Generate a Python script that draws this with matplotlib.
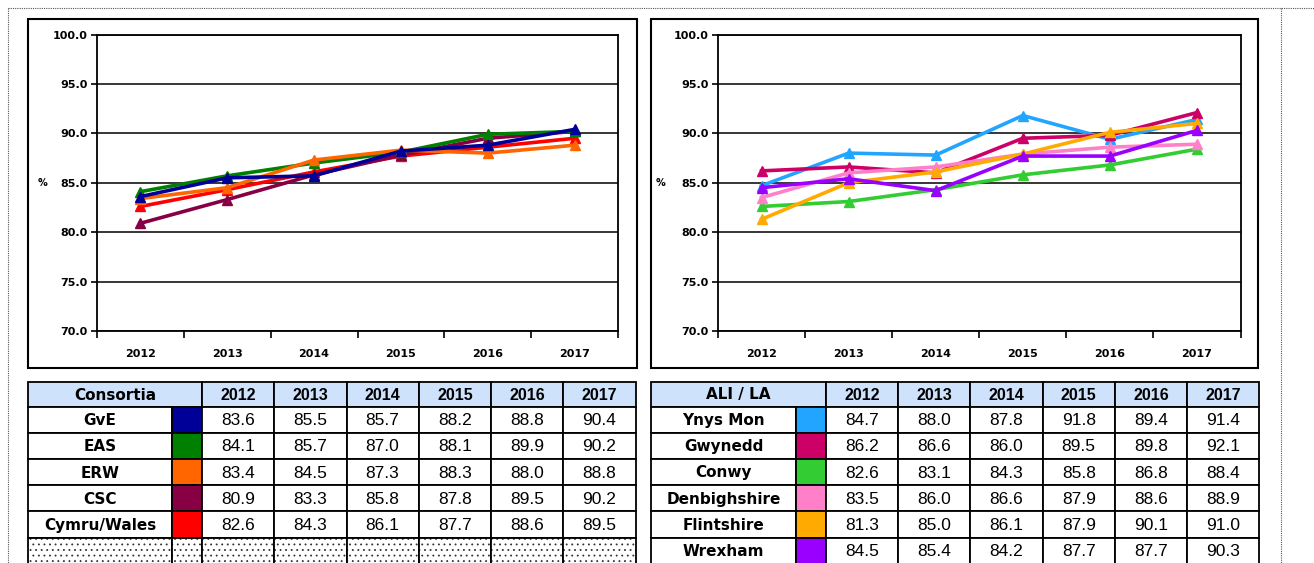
import matplotlib
matplotlib.use("Agg")
import matplotlib.pyplot as plt
from matplotlib.patches import Rectangle

W, H = 1314, 563

years = ["2012", "2013", "2014", "2015", "2016", "2017"]

# Consortia (left)
consortia = ["GvE", "EAS", "ERW", "CSC", "Cymru/Wales"]
gve = [83.6, 85.5, 85.7, 88.2, 88.8, 90.4]
eas = [84.1, 85.7, 87.0, 88.1, 89.9, 90.2]
erw = [83.4, 84.5, 87.3, 88.3, 88.0, 88.8]
csc = [80.9, 83.3, 85.8, 87.8, 89.5, 90.2]
wales = [82.6, 84.3, 86.1, 87.7, 88.6, 89.5]
cons_values = [gve, eas, erw, csc, wales]
cons_colors = ["#000099", "#008000", "#ff6600", "#880044", "#ff0000"]

# Local authorities (right)
las = ["Ynys Mon", "Gwynedd", "Conwy", "Denbighshire", "Flintshire", "Wrexham"]
ynys_mon = [84.7, 88.0, 87.8, 91.8, 89.4, 91.4]
gwynedd = [86.2, 86.6, 86.0, 89.5, 89.8, 92.1]
conwy = [82.6, 83.1, 84.3, 85.8, 86.8, 88.4]
denbighshire = [83.5, 86.0, 86.6, 87.9, 88.6, 88.9]
flintshire = [81.3, 85.0, 86.1, 87.9, 90.1, 91.0]
wrexham = [84.5, 85.4, 84.2, 87.7, 87.7, 90.3]
la_values = [ynys_mon, gwynedd, conwy, denbighshire, flintshire, wrexham]
la_colors = ["#22a5ff", "#cc0066", "#33cc33", "#ff80c8", "#ffaa00", "#9900ff"]

yticks = [70.0, 75.0, 80.0, 85.0, 90.0, 95.0, 100.0]

plt.rcParams["hatch.linewidth"] = 0.6


def px_rect(x0, y0, x1, y1):
    # pixel box (top-left origin) -> figure fraction
    return [x0 / W, 1 - y1 / H, (x1 - x0) / W, (y1 - y0) / H]


fig = plt.figure(figsize=(W / 100, H / 100), dpi=100)
bg = fig.add_axes([0, 0, 1, 1])
bg.set_xlim(0, W)
bg.set_ylim(H, 0)
bg.axis("off")

# dotted page borders
bg.plot([8, W], [8, 8], ls=(0, (1, 1)), color="#555555", lw=0.8)
bg.plot([8, 8], [8, H], ls=(0, (1, 1)), color="#555555", lw=0.8)
bg.plot([1281, 1281], [8, H], ls=(0, (1, 1)), color="#555555", lw=0.8)

# chart frames
for fx0, fx1 in [(28, 636.5), (651, 1258)]:
    bg.add_patch(Rectangle((fx0, 18.5), fx1 - fx0, 349, fill=False, ec="black", lw=1.5))


def draw_chart(rect, values, colors, order):
    ax = fig.add_axes(px_rect(*rect))
    x = range(len(years))
    for i in order:
        ax.plot(x, values[i], color=colors[i], lw=2.6, marker="^", ms=7.5,
                markeredgecolor=colors[i], zorder=3)
    ax.set_xlim(-0.5, len(years) - 0.5)
    ax.set_ylim(70, 100)
    ax.set_yticks(yticks)
    ax.set_yticklabels([f"{v:.1f}" for v in yticks], fontsize=8, fontweight="bold",
                       family="DejaVu Sans")
    ax.set_xticks(list(x))
    ax.set_xticklabels(years, fontsize=8, fontweight="bold", family="DejaVu Sans")
    ax.set_xticks([i - 0.5 for i in range(len(years) + 1)], minor=True)
    ax.tick_params(axis="x", which="major", length=0, pad=13)
    ax.tick_params(axis="x", which="minor", length=5, width=1.2, direction="out")
    ax.tick_params(axis="y", length=4, width=1.2, direction="out", pad=3)
    ax.grid(axis="y", color="black", lw=1.1)
    for s in ax.spines.values():
        s.set_color("black")
        s.set_linewidth(1.3)
    ax.set_ylabel("%", rotation=0, fontsize=7, fontweight="bold", labelpad=2,
                  va="center")
    ax.yaxis.set_label_coords(-0.105, 0.5)
    return ax


draw_chart((97, 34.5, 618, 331), cons_values, cons_colors, [4, 3, 1, 2, 0])
ax2 = draw_chart((718, 34.5, 1240.5, 331), la_values, la_colors, [0, 1, 2, 3, 4, 5])
ax2.yaxis.set_label_coords(-0.11, 0.5)


def draw_table(x_edges, header, names, values, colors, filler_row):
    top = 381.5
    hh = 25
    rh = 26.2
    lw = 1.3
    # header
    bg.add_patch(Rectangle((x_edges[0], top), x_edges[2] - x_edges[0], hh,
                           fc="#cfe2fb", ec="black", lw=lw))
    bg.text((x_edges[0] + x_edges[2]) / 2, top + hh / 2 + 1, header, ha="center",
            va="center", fontsize=11, fontweight="bold", family="DejaVu Sans")
    for j, yr in enumerate(years):
        xa, xb = x_edges[j + 2], x_edges[j + 3]
        bg.add_patch(Rectangle((xa, top), xb - xa, hh, fc="#cfe2fb", ec="black", lw=lw))
        bg.text((xa + xb) / 2, top + hh / 2 + 1, yr, ha="center", va="center",
                fontsize=11.5, fontweight="bold", family="Liberation Sans")
    rows = len(names) + (1 if filler_row else 0)
    for r in range(rows):
        y0 = top + hh + r * rh
        filler = r >= len(names)
        for c in range(len(x_edges) - 1):
            xa, xb = x_edges[c], x_edges[c + 1]
            if filler:
                bg.add_patch(Rectangle((xa, y0), xb - xa, rh, fc="white", ec="#333333",
                                       lw=0, hatch="..."))
                bg.add_patch(Rectangle((xa, y0), xb - xa, rh, fill=False, ec="black",
                                       lw=lw))
                continue
            fc = colors[r] if c == 1 else "white"
            bg.add_patch(Rectangle((xa, y0), xb - xa, rh, fc=fc, ec="black", lw=lw))
            if c == 0:
                bg.text((xa + xb) / 2, y0 + rh / 2 + 1, names[r], ha="center",
                        va="center", fontsize=11, fontweight="bold",
                        family="DejaVu Sans")
            elif c >= 2:
                bg.text((xa + xb) / 2, y0 + rh / 2 + 1, f"{values[r][c - 2]:.1f}",
                        ha="center", va="center", fontsize=12.5,
                        family="Liberation Sans")


left_edges = [28, 172, 202] + [202 + 72.25 * (k + 1) for k in range(6)]
right_edges = [651, 796, 826] + [826 + 72.2 * (k + 1) for k in range(6)]
draw_table(left_edges, "Consortia", consortia, cons_values, cons_colors, True)
draw_table(right_edges, "ALI / LA", las, la_values, la_colors, False)

fig.savefig("out.png", dpi=100)
